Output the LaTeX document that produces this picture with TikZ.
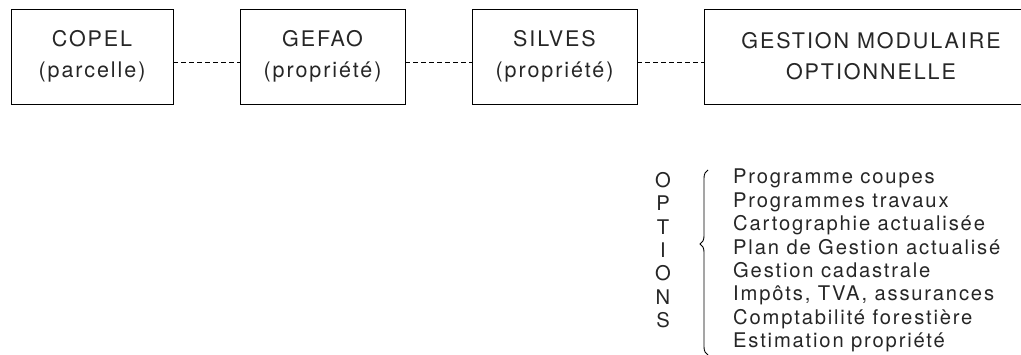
\documentclass[tikz,border=0pt]{standalone}
\usepackage{fontspec}
\setmainfont{TeX Gyre Heros}[LetterSpace=9]
\usetikzlibrary{decorations.pathreplacing}
\tikzset{
  modbox/.style={draw, line width=0.9pt, minimum height=95pt, align=center,
    inner sep=0pt, font=\fontsize{21.5}{31}\selectfont, text=black!85},
  link/.style={draw, line width=0.8pt, dash pattern=on 5pt off 3pt},
  opttext/.style={align=left, inner sep=0pt, anchor=north west,
    font=\fontsize{20.2}{23.4}\selectfont, text=black!85},
  optletters/.style={align=center, inner sep=0pt, anchor=north,
    font=\fontsize{20.2}{23.4}\selectfont, text=black!85},
  optbrace/.style={line width=0.9pt, decorate,
    decoration={brace, amplitude=8pt, aspect=0.6}},
}
\begin{document}
\begin{tikzpicture}[x=1pt,y=-1pt]
\useasboundingbox (0,0) rectangle (1021,355);
\clip (0,0) rectangle (1021,355);
\node[modbox, minimum width=162pt] (copel) at (92,56.5) {COPEL\\(parcelle)};
\node[modbox, minimum width=165pt] (gefao) at (322.5,56.5) {GEFAO\\(propriété)};
\node[modbox, minimum width=165pt] (silves) at (554.5,56.5) {SILVES\\(propriété)};
\node[modbox, minimum width=334pt] (gestion) at (871,56.5) {GESTION MODULAIRE\\OPTIONNELLE};
\draw[link] ([yshift=-6pt]copel.east) -- ([yshift=-6pt]gefao.west);
\draw[link] ([yshift=-6pt]gefao.east) -- ([yshift=-6pt]silves.west);
\draw[link] ([yshift=-6pt]silves.east) -- ([yshift=-6pt]gestion.west);
\node[opttext] (opts) at (733,169) {Programme coupes\\Programmes travaux\\Cartographie actualisée\\Plan de Gestion actualisé\\Gestion cadastrale\\Impôts, TVA, assurances\\Comptabilité forestière\\Estimation propriété};
\node[optletters] (letters) at (663,172) {O\\P\\T\\I\\O\\N\\S};
\draw[optbrace] (708,355) -- (708,170);
\end{tikzpicture}
\end{document}
